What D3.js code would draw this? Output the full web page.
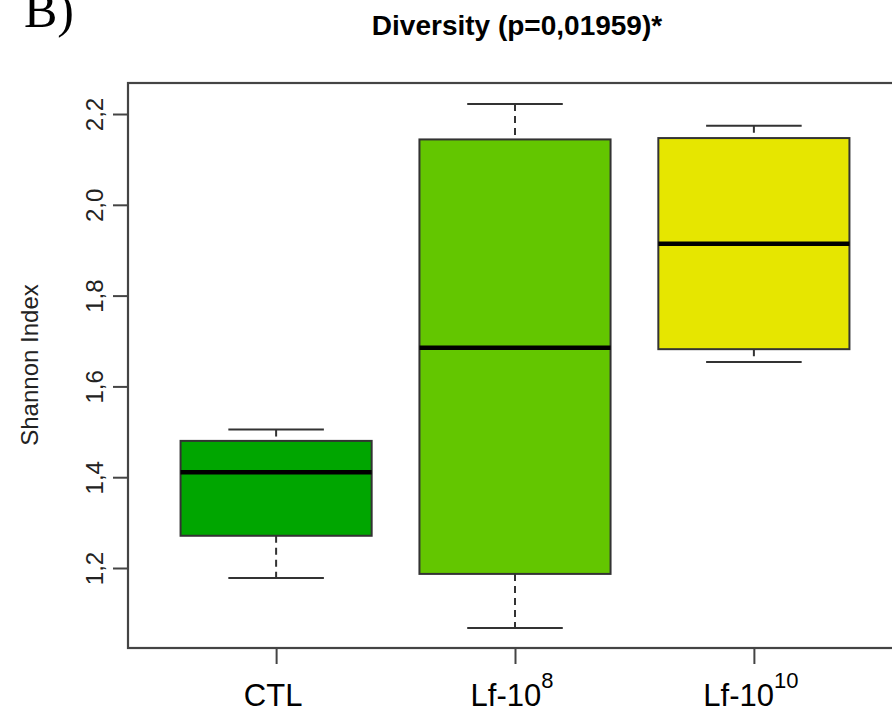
<!DOCTYPE html>
<html>
<head>
<meta charset="utf-8">
<script src="https://cdn.jsdelivr.net/npm/d3@7"></script>
<style>
  body { margin: 0; background: #fff; }
  text { font-family: "Liberation Sans", Arial, sans-serif; }
</style>
</head>
<body>
<svg id="chart"></svg>
<script>
// groups and their five-number summaries
const groups   = ['CTL', 'Lf-10', 'Lf-10']
const supers   = ['', '8', '10']
const lowWhisk = [1.178, 1.068, 1.654]
const q1       = [1.271, 1.187, 1.682]
const median   = [1.411, 1.685, 1.914]
const q3       = [1.480, 2.144, 2.147]
const highWhisk= [1.505, 2.222, 2.174]
const colors   = ['#00A600', '#63C600', '#E6E600']
const yTicks   = [1.2, 1.4, 1.6, 1.8, 2.0, 2.2]

const width = 892, height = 713
const frame = {left: 128, right: 902, top: 83, bottom: 648}

const svg = d3.select('#chart')
    .attr('width', width)
    .attr('height', height)

// R style: x from 0.5 to n+0.5, padded 4%
const x = d3.scaleLinear()
    .domain([0.38, 3.62])
    .range([frame.left, frame.right])

const y = d3.scaleLinear()
    .domain([1.0238, 2.2683])
    .range([frame.bottom, frame.top])

const boxW = (x(2) - x(1)) * 0.8

const data = groups.map((g, i) => ({
    name: g, sup: supers[i], pos: i + 1,
    lo: lowWhisk[i], q1: q1[i], med: median[i], q3: q3[i], hi: highWhisk[i],
    color: colors[i]
}))

const boxes = svg.append('g')
    .selectAll('g')
    .data(data)
    .enter()
    .append('g')

// whiskers
boxes.append('line')
    .attr('x1', d => x(d.pos)).attr('x2', d => x(d.pos))
    .attr('y1', d => y(d.hi)).attr('y2', d => y(d.q3))
    .attr('stroke', '#333').attr('stroke-width', 2).attr('stroke-dasharray', '7,5')
boxes.append('line')
    .attr('x1', d => x(d.pos)).attr('x2', d => x(d.pos))
    .attr('y1', d => y(d.q1)).attr('y2', d => y(d.lo))
    .attr('stroke', '#333').attr('stroke-width', 2).attr('stroke-dasharray', '7,5')

// caps
boxes.selectAll('line.cap')
    .data(d => [d.lo, d.hi].map(v => ({pos: d.pos, v: v})))
    .enter()
    .append('line')
    .attr('class', 'cap')
    .attr('x1', d => x(d.pos) - boxW / 4).attr('x2', d => x(d.pos) + boxW / 4)
    .attr('y1', d => y(d.v)).attr('y2', d => y(d.v))
    .attr('stroke', '#333').attr('stroke-width', 2)

// box
boxes.append('rect')
    .attr('x', d => x(d.pos) - boxW / 2)
    .attr('width', boxW)
    .attr('y', d => y(d.q3))
    .attr('height', d => y(d.q1) - y(d.q3))
    .attr('fill', d => d.color)
    .attr('stroke', '#333').attr('stroke-width', 2)

// median
boxes.append('line')
    .attr('x1', d => x(d.pos) - boxW / 2).attr('x2', d => x(d.pos) + boxW / 2)
    .attr('y1', d => y(d.med)).attr('y2', d => y(d.med))
    .attr('stroke', '#000').attr('stroke-width', 4.5)

// frame
svg.append('rect')
    .attr('x', frame.left).attr('y', frame.top)
    .attr('width', frame.right - frame.left)
    .attr('height', frame.bottom - frame.top)
    .attr('fill', 'none')
    .attr('stroke', '#444').attr('stroke-width', 2.2)

// y axis
const yAxis = svg.append('g')
    .attr('transform', 'translate(' + frame.left + ',0)')
    .call(d3.axisLeft(y)
        .tickValues(yTicks)
        .tickSize(15)
        .tickFormat(d => d3.format('.1f')(d).replace('.', ',')))
yAxis.select('.domain').remove()
yAxis.selectAll('.tick line').attr('stroke', '#444').attr('stroke-width', 2)
yAxis.selectAll('.tick text')
    .attr('font-size', 24)
    .attr('fill', '#222')
    .attr('text-anchor', 'middle')
    .attr('x', 0).attr('dy', 0)
    .attr('transform', 'translate(-25,0) rotate(-90)')

// x axis
const xAxis = svg.append('g')
    .attr('transform', 'translate(0,' + frame.bottom + ')')
    .call(d3.axisBottom(x)
        .tickValues(data.map(d => d.pos))
        .tickSize(16)
        .tickFormat(''))
xAxis.select('.domain')
    .attr('d', 'M' + x(1) + ',0H' + x(3))
    .attr('stroke', '#444').attr('stroke-width', 2.2)
xAxis.selectAll('.tick line').attr('stroke', '#444').attr('stroke-width', 2)

const xLab = svg.append('g')
    .selectAll('text')
    .data(data)
    .enter()
    .append('text')
    .attr('x', d => x(d.pos) - 3)
    .attr('y', 706)
    .attr('text-anchor', 'middle')
    .attr('font-size', 31)
    .attr('fill', '#000')
xLab.append('tspan').text(d => d.name)
xLab.append('tspan')
    .attr('font-size', 22)
    .attr('dy', -18)
    .text(d => d.sup)

// y label
svg.append('text')
    .attr('transform', 'translate(38,365) rotate(-90)')
    .attr('text-anchor', 'middle')
    .attr('font-size', 24)
    .attr('fill', '#222')
    .text('Shannon Index')

// title
svg.append('text')
    .attr('x', 517).attr('y', 35)
    .attr('text-anchor', 'middle')
    .attr('font-size', 28)
    .attr('font-weight', 'bold')
    .text('Diversity (p=0,01959)*')

// panel letter (cut at the top edge, as in the source figure)
svg.append('text')
    .attr('x', 24).attr('y', 27)
    .style('font-family', '"Liberation Serif", "Times New Roman", serif')
    .attr('font-size', 50)
    .text('B)')
</script>
</body>
</html>
